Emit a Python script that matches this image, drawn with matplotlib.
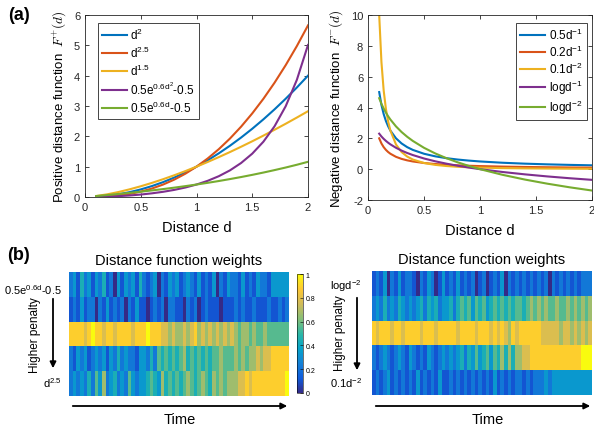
import numpy as np
import matplotlib
matplotlib.use("Agg")
import matplotlib.pyplot as plt
from matplotlib.colors import LinearSegmentedColormap
from matplotlib.patches import FancyArrowPatch

plt.rcParams['font.family'] = ['Liberation Sans', 'DejaVu Sans']
plt.rcParams['mathtext.fontset'] = 'custom'
plt.rcParams['mathtext.rm'] = 'Liberation Sans'
plt.rcParams['mathtext.it'] = 'Liberation Sans:italic'
plt.rcParams['mathtext.bf'] = 'Liberation Sans:bold'

# ---- (a) left: positive distance functions ----
d_pos = [0.1, 0.2, 0.3, 0.4, 0.5, 0.6, 0.7, 0.8, 0.9, 1.0,
         1.1, 1.2, 1.3, 1.4, 1.5, 1.6, 1.7, 1.8, 1.9, 2.0]
pos_d2 = [0.01, 0.04, 0.09, 0.16, 0.25, 0.36, 0.49, 0.64, 0.81, 1.0,
          1.21, 1.44, 1.69, 1.96, 2.25, 2.56, 2.89, 3.24, 3.61, 4.0]
pos_d25 = [0.003, 0.018, 0.049, 0.101, 0.177, 0.279, 0.41, 0.572, 0.768, 1.0,
           1.269, 1.577, 1.927, 2.319, 2.756, 3.238, 3.768, 4.347, 4.976, 5.657]
pos_d15 = [0.032, 0.089, 0.164, 0.253, 0.354, 0.465, 0.586, 0.716, 0.854, 1.0,
           1.154, 1.315, 1.482, 1.657, 1.837, 2.024, 2.217, 2.415, 2.619, 2.828]
pos_expsq = [0.003, 0.012, 0.028, 0.05, 0.081, 0.121, 0.171, 0.234, 0.313, 0.411,
             0.533, 0.686, 0.878, 1.121, 1.429, 1.823, 2.332, 2.993, 3.862, 5.012]
pos_exp = [0.031, 0.064, 0.099, 0.136, 0.175, 0.217, 0.261, 0.308, 0.358, 0.411,
           0.467, 0.527, 0.591, 0.658, 0.73, 0.806, 0.887, 0.972, 1.063, 1.16]
pos_labels = [r'd$^{2}$', r'd$^{2.5}$', r'd$^{1.5}$',
              r'0.5e$^{\mathregular{0.6d^2}}$-0.5', r'0.5e$^{\mathregular{0.6d}}$-0.5']

# ---- (a) right: negative distance functions ----
d_neg = [0.1, 0.12, 0.14, 0.16, 0.18, 0.2, 0.25, 0.3, 0.35, 0.4, 0.5,
         0.6, 0.7, 0.8, 0.9, 1.0, 1.2, 1.4, 1.6, 1.8, 2.0]
neg_05 = [5.0, 4.167, 3.571, 3.125, 2.778, 2.5, 2.0, 1.667, 1.429, 1.25, 1.0,
          0.833, 0.714, 0.625, 0.556, 0.5, 0.417, 0.357, 0.313, 0.278, 0.25]
neg_02 = [2.0, 1.667, 1.429, 1.25, 1.111, 1.0, 0.8, 0.667, 0.571, 0.5, 0.4,
          0.333, 0.286, 0.25, 0.222, 0.2, 0.167, 0.143, 0.125, 0.111, 0.1]
neg_01 = [10.0, 6.944, 5.102, 3.906, 3.086, 2.5, 1.6, 1.111, 0.816, 0.625, 0.4,
          0.278, 0.204, 0.156, 0.123, 0.1, 0.069, 0.051, 0.039, 0.031, 0.025]
neg_log1 = [2.303, 2.12, 1.966, 1.833, 1.715, 1.609, 1.386, 1.204, 1.05, 0.916, 0.693,
            0.511, 0.357, 0.223, 0.105, 0.0, -0.182, -0.336, -0.47, -0.588, -0.693]
neg_log2 = [4.605, 4.241, 3.932, 3.665, 3.429, 3.219, 2.773, 2.408, 2.1, 1.833, 1.386,
            1.022, 0.713, 0.446, 0.211, 0.0, -0.365, -0.673, -0.94, -1.176, -1.386]
neg_labels = [r'0.5d$^{-1}$', r'0.2d$^{-1}$', r'0.1d$^{-2}$', r'logd$^{-1}$', r'logd$^{-2}$']

# ---- (b) weights, digit k -> k/9, 60 time bins per row ----
left_rows = [
    "231423132412031323142123021323123213121302132213121322133333",
    "121312202131212021311012120221102120121110111212112111211212",
    "888878988788788887888988877676676786767676767656656556555555",
    "213231232313242322133242545454564545454556555656566767788888",
    "232324253623423253233454364545456545654656566677878888888889",
]
right_rows = [
    "121302131221021320131213121201201213021212121212021212121222",
    "232423243232342434233424545354534545454554565656556556565656",
    "878887887888878887888887888878887878768788888877777677676767",
    "212321232132121321232323424353453546464667788888888888888999",
    "121231212121312121311212121212121312121221212223233333333333",
]
left_names = [r'0.5e$^{\mathregular{0.6d}}$-0.5', r'd$^{2.5}$']
right_names = [r'logd$^{-2}$', r'0.1d$^{-2}$']

colors = ['#0072BD', '#D95319', '#EDB120', '#7E2F8E', '#77AC30']
parula = LinearSegmentedColormap.from_list(
    'parula', ['#352a87', '#0f5cdd', '#1481d6', '#06a4ca', '#2eb7a4',
               '#87bf77', '#d1bb59', '#fec832', '#f9fb0e'])

W, H = 594, 431
fig = plt.figure(figsize=(W / 100, H / 100), dpi=100)


def box(x0, y0, x1, y1):
    # pixel box (top-left origin) -> figure fraction rect
    return [x0 / W, 1 - y1 / H, (x1 - x0) / W, (y1 - y0) / H]


def fx(x):
    return x / W


def fy(y):
    return 1 - y / H


def style_axes(ax):
    ax.tick_params(direction='in', top=True, right=True, length=3,
                   labelsize=8, colors='#262626', width=0.6)
    for s in ax.spines.values():
        s.set_color('#262626')
        s.set_linewidth(0.6)


def add_legend(ax, anchor, loc, spacing):
    leg = ax.legend(loc=loc, bbox_to_anchor=anchor, borderaxespad=0,
                    fontsize=8.5, handlelength=2.1, handletextpad=0.3,
                    borderpad=0.35, labelspacing=spacing, fancybox=False,
                    framealpha=1, edgecolor='#262626')
    leg.get_frame().set_linewidth(0.6)


# left line plot
ax1 = fig.add_axes(box(85, 16, 308, 198))
for ys, c, lab in zip([pos_d2, pos_d25, pos_d15, pos_expsq, pos_exp], colors, pos_labels):
    ax1.plot(d_pos, ys, color=c, lw=1.5, label=lab)
ax1.set_xlim(0, 2)
ax1.set_ylim(0, 6)
ax1.set_xticks([0, 0.5, 1, 1.5, 2], ['0', '0.5', '1', '1.5', '2'])
ax1.set_yticks(range(7))
ax1.set_xlabel('Distance d', fontsize=10.5, labelpad=6)
ax1.set_ylabel(r'Positive distance function  $F^{+}(d)$', fontsize=9.5,
               math_fontfamily='cm', labelpad=4)
style_axes(ax1)
add_legend(ax1, (13 / 223, 1 - 8 / 182), 'upper left', 0.22)

# right line plot
ax2 = fig.add_axes(box(368, 16, 592, 201))
for ys, c, lab in zip([neg_05, neg_02, neg_01, neg_log1, neg_log2], colors, neg_labels):
    ax2.plot(d_neg, ys, color=c, lw=1.5, label=lab)
ax2.set_xlim(0, 2)
ax2.set_ylim(-2, 10)
ax2.set_xticks([0, 0.5, 1, 1.5, 2], ['0', '0.5', '1', '1.5', '2'])
ax2.set_yticks(range(-2, 11, 2), [str(v) for v in range(-2, 11, 2)])
ax2.set_xlabel('Distance d', fontsize=10.5, labelpad=6)
ax2.set_ylabel(r'Negative distance function  $F^{-}(d)$', fontsize=9.5,
               math_fontfamily='cm', labelpad=4)
style_axes(ax2)
add_legend(ax2, (1 - 5 / 224, 1 - 8 / 185), 'upper right', 0.15)

# heatmaps
left_w = np.array([[int(ch) / 9 for ch in r] for r in left_rows])
right_w = np.array([[int(ch) / 9 for ch in r] for r in right_rows])

ax3 = fig.add_axes(box(69, 273, 289, 397))
im = ax3.imshow(left_w, aspect='auto', cmap=parula, vmin=0, vmax=1,
                interpolation='nearest')
ax3.axis('off')
ax3.set_title('Distance function weights', fontsize=10.5, pad=6)

ax4 = fig.add_axes(box(372, 272, 592, 396))
ax4.imshow(right_w, aspect='auto', cmap=parula, vmin=0, vmax=1,
           interpolation='nearest')
ax4.axis('off')
ax4.set_title('Distance function weights', fontsize=10.5, pad=6)

cax = fig.add_axes(box(297, 275, 303, 394))
cb = fig.colorbar(im, cax=cax, ticks=[0, 0.2, 0.4, 0.6, 0.8, 1])
cb.ax.set_yticklabels(['0', '0.2', '0.4', '0.6', '0.8', '1'])
cb.ax.tick_params(labelsize=5, length=2, width=0.4, direction='in', pad=2)
cb.outline.set_linewidth(0.4)

# side labels and arrows
fig.text(fx(62), fy(290), left_names[0], fontsize=8, ha='right', va='center')
fig.text(fx(62), fy(383), left_names[1], fontsize=8, ha='right', va='center')
fig.text(fx(35), fy(335), 'Higher penalty', fontsize=8.5, rotation=90,
         ha='center', va='center')
fig.text(fx(362), fy(286), right_names[0], fontsize=8, ha='right', va='center')
fig.text(fx(362), fy(383), right_names[1], fontsize=8, ha='right', va='center')
fig.text(fx(340), fy(333), 'Higher penalty', fontsize=8.5, rotation=90,
         ha='center', va='center')

for (xa, ya), (xb, yb) in [((53, 297), (53, 372)), ((357, 296), (357, 374)),
                           ((70, 407), (290, 407)), ((373, 407), (593, 407))]:
    fig.add_artist(FancyArrowPatch((fx(xa), fy(ya)), (fx(xb), fy(yb)),
                                   transform=fig.transFigure, arrowstyle='-|>',
                                   mutation_scale=9, lw=1.3, color='black'))

fig.text(fx(180), fy(420), 'Time', fontsize=10.5, ha='center', va='center')
fig.text(fx(488), fy(420), 'Time', fontsize=10.5, ha='center', va='center')

fig.text(fx(19), fy(16), '(a)', fontsize=13, fontweight='bold', ha='center', va='center')
fig.text(fx(19), fy(256), '(b)', fontsize=13, fontweight='bold', ha='center', va='center')

fig.savefig('out.png', dpi=100)
